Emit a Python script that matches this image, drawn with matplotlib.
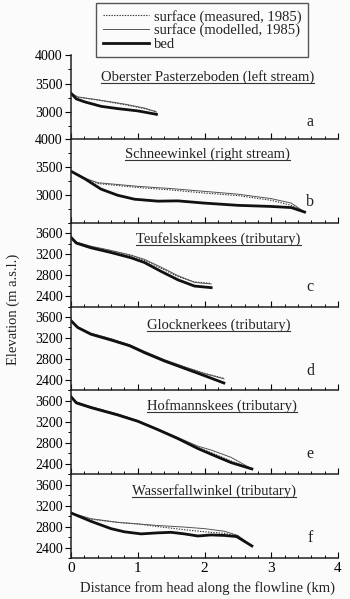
import matplotlib
matplotlib.use("Agg")
import matplotlib.pyplot as plt
from matplotlib.lines import Line2D
from matplotlib.ticker import MultipleLocator

plt.rcParams['font.family'] = ['Liberation Serif', 'DejaVu Serif']
plt.rcParams['font.size'] = 10
plt.rcParams['text.color'] = '#222222'

# --- data (km along flowline, elevation m a.s.l.) ---
a_x_surf = [0, 0.1, 0.4, 0.8, 1.1, 1.28]
a_meas = [3330, 3260, 3210, 3130, 3060, 3010]
a_mod = [3330, 3265, 3215, 3140, 3070, 3000]
a_x_bed = [0, 0.08, 0.2, 0.45, 0.7, 1.0, 1.28]
a_bed = [3330, 3230, 3180, 3100, 3060, 3020, 2960]

b_x_surf = [0, 0.2, 0.4, 1.0, 1.5, 2.0, 2.5, 3.0, 3.3, 3.5]
b_meas = [3420, 3300, 3200, 3130, 3085, 3030, 2985, 2900, 2810, 2690]
b_mod = [3420, 3300, 3215, 3150, 3110, 3060, 3010, 2930, 2850, 2690]
b_x_bed = [0, 0.2, 0.45, 0.7, 0.95, 1.3, 1.6, 2.0, 2.5, 3.0, 3.3, 3.5]
b_bed = [3420, 3290, 3100, 2990, 2920, 2885, 2890, 2850, 2810, 2790, 2770, 2690]

c_x = [0, 0.08, 0.3, 0.6, 0.9, 1.1, 1.35, 1.6, 1.85, 2.1]
c_meas = [3520, 3425, 3345, 3260, 3170, 3080, 2930, 2770, 2670, 2640]
c_mod = [3520, 3430, 3350, 3270, 3180, 3100, 2950, 2790, 2660, 2630]
c_bed = [3520, 3410, 3320, 3230, 3130, 3040, 2870, 2710, 2590, 2560]

d_x = [0, 0.1, 0.3, 0.6, 0.88, 1.1, 1.4, 1.7, 2.0, 2.29]
d_meas = [3530, 3405, 3285, 3180, 3060, 2935, 2775, 2645, 2525, 2430]
d_mod = [3530, 3410, 3290, 3185, 3070, 2945, 2785, 2650, 2520, 2420]
d_bed = [3530, 3400, 3270, 3160, 3050, 2920, 2760, 2620, 2480, 2340]

e_x = [0, 0.08, 0.3, 0.7, 1.0, 1.3, 1.6, 1.9, 2.1, 2.4, 2.71]
e_meas = [3680, 3570, 3480, 3340, 3215, 3055, 2890, 2710, 2610, 2450, 2300]
e_mod = [3680, 3580, 3490, 3350, 3225, 3065, 2900, 2735, 2660, 2520, 2300]
e_bed = [3680, 3560, 3470, 3330, 3210, 3050, 2880, 2690, 2580, 2420, 2300]

f_x_surf = [0, 0.3, 0.7, 1.0, 1.3, 1.7, 2.0, 2.3, 2.5, 2.71]
f_meas = [3060, 2940, 2880, 2850, 2800, 2740, 2700, 2670, 2620, 2430]
f_mod = [3060, 2950, 2880, 2850, 2820, 2790, 2760, 2710, 2630, 2430]
f_x_bed = [0, 0.3, 0.6, 0.8, 1.05, 1.3, 1.5, 1.7, 1.9, 2.1, 2.3, 2.48, 2.71]
f_bed = [3060, 2900, 2760, 2700, 2660, 2680, 2690, 2660, 2620, 2640, 2630, 2610, 2430]

titles = ["Oberster Pasterzeboden (left stream)", "Schneewinkel (right stream)",
          "Teufelskampkees (tributary)", "Glocknerkees (tributary)",
          "Hofmannskees (tributary)", "Wasserfallwinkel (tributary)"]
letters = ["a", "b", "c", "d", "e", "f"]
x_ticks = [0, 1, 2, 3, 4]
y_ticks_top = [3000, 3500, 4000]
y_ticks_low = [2400, 2800, 3200, 3600]

panels = [
    (a_x_surf, a_meas, a_mod, a_x_bed, a_bed),
    (b_x_surf, b_meas, b_mod, b_x_bed, b_bed),
    (c_x, c_meas, c_mod, c_x, c_bed),
    (d_x, d_meas, d_mod, d_x, d_bed),
    (e_x, e_meas, e_mod, e_x, e_bed),
    (f_x_surf, f_meas, f_mod, f_x_bed, f_bed),
]
ylims = [(2530, 4000), (2500, 4000), (2200, 3800), (2200, 3800), (2200, 3800), (2200, 3800)]
title_pos = [(0.51, 0.74), (0.51, 0.82), (0.553, 0.81), (0.553, 0.775), (0.566, 0.81), (0.534, 0.80)]
letter_y = [0.2, 0.25, 0.235, 0.23, 0.24, 0.24]

meas_style = dict(color="#333333", lw=0.8, ls=(0, (1.2, 1.2)))
mod_style = dict(color="#555555", lw=0.7, ls="-")
bed_style = dict(color="#111111", lw=2.0, ls="-")

fig, axes = plt.subplots(6, 1, figsize=(3.5, 5.99), dpi=100, sharex=True)
fig.patch.set_facecolor("#fbfbfb")
fig.subplots_adjust(left=71 / 350, right=338 / 350, top=1 - 55 / 599,
                    bottom=1 - 558 / 599, hspace=0)

title_texts = []
for i, ax in enumerate(axes):
    xs, meas, mod, xb, bed = panels[i]
    ax.set_facecolor("none")
    ax.plot(xs, meas, **meas_style)
    ax.plot(xs, mod, **mod_style)
    ax.plot(xb, bed, **bed_style)
    ax.set_xlim(0, 4)
    ax.set_ylim(*ylims[i])
    for s in ("top", "right"):
        ax.spines[s].set_visible(False)
    for s in ("left", "bottom"):
        ax.spines[s].set_linewidth(1.1)
        ax.spines[s].set_color("#222222")
    ax.set_xticks(x_ticks)
    ax.xaxis.set_minor_locator(MultipleLocator(0.2))
    if i < 2:
        ax.set_yticks(y_ticks_top)
        ax.yaxis.set_minor_locator(MultipleLocator(250))
    else:
        ax.set_yticks(y_ticks_low)
        ax.yaxis.set_minor_locator(MultipleLocator(200))
    ax.tick_params(axis="x", which="major", direction="in", length=4.5, width=0.8,
                   labelbottom=(i == 5), pad=3, labelsize=11)
    ax.tick_params(axis="x", which="minor", direction="in", length=2.5, width=0.7)
    ax.tick_params(axis="y", which="major", direction="out", length=4, width=0.8,
                   pad=2, labelsize=10)
    ax.tick_params(axis="y", which="minor", direction="out", length=2.3, width=0.7)
    tx, ty = title_pos[i]
    t = ax.text(tx, ty, titles[i], transform=ax.transAxes, ha="center", va="center",
                fontsize=10.5)
    title_texts.append(t)
    ax.text(0.895, letter_y[i], letters[i], transform=ax.transAxes, ha="center",
            va="center", fontsize=11.5)

fig.text(13 / 350, 1 - 309 / 599, "Elevation (m a.s.l.)", rotation=90,
         ha="center", va="center", fontsize=10.5)
fig.text(207.5 / 350, 1 - 588 / 599, "Distance from head along the flowline (km)",
         ha="center", va="center", fontsize=10.5)

handles = [Line2D([], [], **meas_style), Line2D([], [], **mod_style),
           Line2D([], [], **bed_style)]
labels = ["surface (measured, 1985)", "surface (modelled, 1985)", "bed"]
leg = fig.legend(handles, labels, loc="upper left", bbox_to_anchor=(96 / 350, 1 - 3 / 599),
                 frameon=True, fancybox=False, edgecolor="#555555", framealpha=1,
                 facecolor="#fbfbfb", fontsize=10.5, handlelength=3.2,
                 handletextpad=0.3, labelspacing=0.0, borderpad=0.45,
                 borderaxespad=0)
leg.get_frame().set_linewidth(1.0)

# underline the panel titles
fig.canvas.draw()
renderer = fig.canvas.get_renderer()
W, H = fig.bbox.width, fig.bbox.height
for t in title_texts:
    bb = t.get_window_extent(renderer)
    y = (bb.y0 + 1.0) / H
    fig.add_artist(Line2D([bb.x0 / W, bb.x1 / W], [y, y], transform=fig.transFigure,
                          color="#333333", lw=0.8))

fig.savefig("out.png", dpi=100, facecolor=fig.get_facecolor())
